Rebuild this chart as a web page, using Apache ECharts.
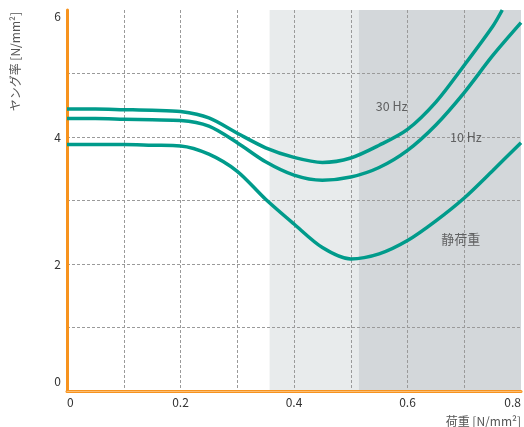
<!DOCTYPE html>
<html><head><meta charset="utf-8">
<script src="https://cdn.jsdelivr.net/npm/echarts@6/dist/echarts.min.js"></script>
<style>html,body{margin:0;padding:0;background:#fff}#c{width:524px;height:427px}</style>
</head><body><div id="c"></div>
<script>
// ---- data ----
const loads   = [0, 0.05, 0.1, 0.15, 0.2, 0.25, 0.3, 0.35, 0.4, 0.45, 0.5, 0.55, 0.6, 0.65, 0.7, 0.75, 0.8];
const hz30    = [4.44, 4.44, 4.43, 4.42, 4.40, 4.30, 4.06, 3.83, 3.68, 3.60, 3.67, 3.87, 4.12, 4.55, 5.13, 5.74];
const hz30End = [0.767, 6.0];
const hz10    = [4.29, 4.29, 4.28, 4.27, 4.26, 4.17, 3.91, 3.61, 3.40, 3.32, 3.37, 3.52, 3.79, 4.19, 4.70, 5.28, 5.80];
const staticL = [3.88, 3.88, 3.88, 3.87, 3.86, 3.73, 3.46, 3.02, 2.63, 2.26, 2.08, 2.16, 2.37, 2.68, 3.04, 3.47, 3.91];
const seriesNames = ['30 Hz', '10 Hz', '静荷重'];
const labelX = [0.572, 0.703, 0.694];
const labelY = [4.49, 3.99, 2.39];
const bandLight = [0.357, 0.514];
const bandDark  = [0.514, 0.8];
const yTicks = [0, 2, 4, 6];
const xTicks = [0, 0.2, 0.4, 0.6, 0.8];

const FONT = '"Noto Sans CJK JP", "Noto Sans", sans-serif';
const TEAL = '#009b8b';
const pairs = (xs, ys) => ys.map((v, i) => [xs[i], v]);

const chart = echarts.init(document.getElementById('c'), null, {renderer: 'canvas'});
const curveStyle = {color: TEAL, width: 3.5};

chart.setOption({
  animation: false,
  grid: {left: 67, right: 3, top: 10, bottom: 35},
  xAxis: [{
    type: 'value', min: 0, max: 0.8, interval: 0.1, z: 3,
    axisLine: {show: true, onZero: false, lineStyle: {color: '#f7931e', width: 3}},
    axisTick: {show: false},
    axisLabel: {
      color: '#333', fontFamily: FONT, fontSize: 12, margin: 5,
      alignMinLabel: 'left', alignMaxLabel: 'right',
      formatter: v => xTicks.some(t => Math.abs(t - v) < 1e-6) ? (v === 0 ? '0' : v.toFixed(1)) : ''
    },
    splitLine: {show: true, showMinLine: false, showMaxLine: false,
      lineStyle: {color: '#9a9a9a', type: [3, 2], width: 1}},
    name: '荷重 [N/mm²]', nameLocation: 'end', nameGap: 0,
    nameTextStyle: {color: '#555', fontFamily: FONT, fontSize: 12, align: 'right', verticalAlign: 'top', padding: [24, 0, 0, 0]}
  }, {
    type: 'value', position: 'top', min: 0, max: 0.8, z: 3,
    axisLine: {show: true, lineStyle: {color: '#fbbd74', width: 1}},
    axisTick: {show: false}, axisLabel: {show: false}, splitLine: {show: false}
  }],
  yAxis: {
    type: 'value', min: 0, max: 6, interval: 1, z: 3,
    axisLine: {show: true, onZero: false, lineStyle: {color: '#f7931e', width: 3}},
    axisTick: {show: false},
    axisLabel: {
      color: '#333', fontFamily: FONT, fontSize: 12, margin: 6,
      verticalAlignMinLabel: 'bottom', verticalAlignMaxLabel: 'top',
      formatter: v => yTicks.indexOf(v) >= 0 ? (v === 0 ? '{low|0}' : String(v)) : '',
      rich: {low: {color: '#333', fontFamily: FONT, fontSize: 12, padding: [0, 0, 4, 0]}}
    },
    splitLine: {show: true, showMinLine: false, showMaxLine: false,
      lineStyle: {color: '#9a9a9a', type: [3, 2], width: 1}}
  },
  graphic: [{
    type: 'text', x: 15, y: 12, rotation: Math.PI / 2, z: 10,
    style: {text: 'ヤング率 [N/mm²]', fill: '#555', font: '12px ' + FONT, align: 'right', verticalAlign: 'middle'}
  }],
  series: [
    {
      type: 'line', name: 'bands', data: [], z: 1, silent: true,
      markArea: {silent: true, z: 1, data: [
        [{xAxis: bandLight[0], itemStyle: {color: '#e8ebec'}}, {xAxis: bandLight[1]}],
        [{xAxis: bandDark[0], itemStyle: {color: '#d3d7da'}}, {xAxis: bandDark[1]}]
      ]}
    },
    {type: 'line', name: seriesNames[0], z: 5, smooth: 0.3, showSymbol: false, symbol: 'none',
      lineStyle: curveStyle, data: pairs(loads, hz30).concat([hz30End])},
    {type: 'line', name: seriesNames[1], z: 5, smooth: 0.3, showSymbol: false, symbol: 'none',
      lineStyle: curveStyle, data: pairs(loads, hz10)},
    {type: 'line', name: seriesNames[2], z: 5, smooth: 0.3, showSymbol: false, symbol: 'none',
      lineStyle: curveStyle, data: pairs(loads, staticL)},
    {
      type: 'scatter', name: 'labels', z: 6, symbolSize: 0, silent: true,
      data: seriesNames.map((n, i) => ({value: [labelX[i], labelY[i]], name: n,
        label: {fontSize: i === 2 ? 13 : 12.5}})),
      label: {show: true, position: 'inside', color: '#444', fontFamily: FONT,
        formatter: p => p.name}
    }
  ]
});
</script></body></html>
